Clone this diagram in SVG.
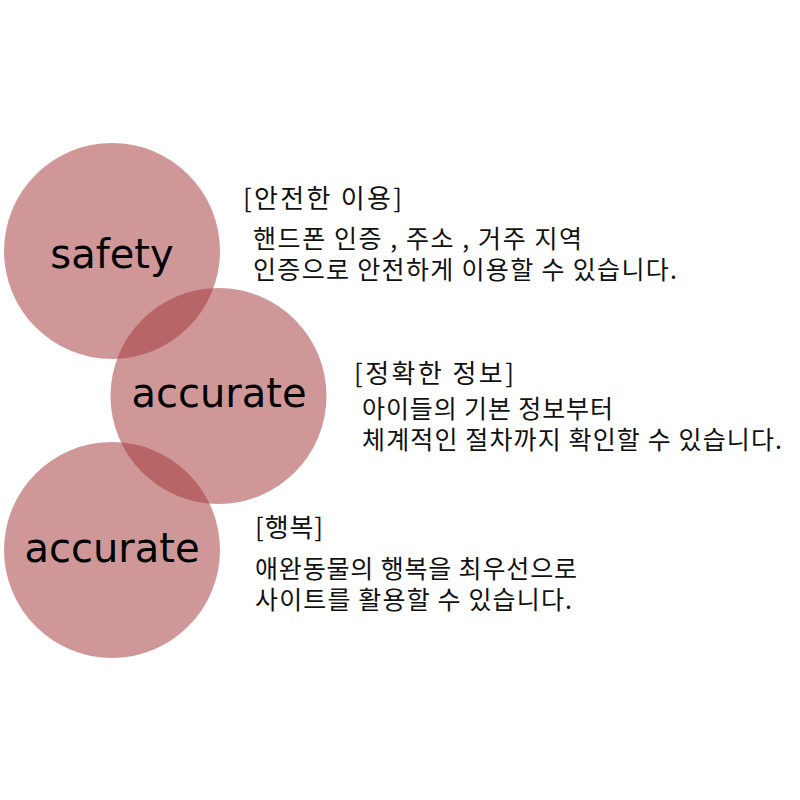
<svg xmlns="http://www.w3.org/2000/svg" width="800" height="800" viewBox="0 0 800 800">
<style>
.bg{fill:#ffffff}
.disc{fill:#a3373a;fill-opacity:0.52}
.big{font-family:"DejaVu Sans","Noto Sans",sans-serif;font-size:40px;fill:#000000;text-anchor:middle}
.head{font-family:"Noto Sans CJK KR","Noto Sans",sans-serif;font-size:26px;fill:#111111}
.body{font-family:"Noto Sans CJK KR","Noto Sans",sans-serif;font-size:25px;fill:#111111}
</style>
<rect class="bg" x="0" y="0" width="800" height="800"/>
<g id="node-safety">
<circle class="disc" cx="112" cy="251" r="108"/>
<text class="big" x="112" y="268">safety</text>
<text class="head" x="243" y="208" textLength="159" lengthAdjust="spacing">[안전한 이용]</text>
<text class="body"><tspan x="253" y="248" textLength="329" lengthAdjust="spacing">핸드폰 인증 , 주소 , 거주 지역</tspan><tspan x="253" y="279" textLength="424" lengthAdjust="spacing">인증으로 안전하게 이용할 수 있습니다.</tspan></text>
</g>
<g id="node-accurate-1">
<circle class="disc" cx="218.5" cy="396" r="108"/>
<text class="big" x="219" y="407">accurate</text>
<text class="head" x="354" y="383" textLength="160" lengthAdjust="spacing">[정확한 정보]</text>
<text class="body"><tspan x="362" y="418" textLength="251" lengthAdjust="spacing">아이들의 기본 정보부터</tspan><tspan x="362" y="449" textLength="420" lengthAdjust="spacing">체계적인 절차까지 확인할 수 있습니다.</tspan></text>
</g>
<g id="node-accurate-2">
<circle class="disc" cx="112" cy="550" r="108"/>
<text class="big" x="112" y="562">accurate</text>
<text class="head" x="255" y="537" textLength="68" lengthAdjust="spacing">[행복]</text>
<text class="body"><tspan x="255" y="578" textLength="322" lengthAdjust="spacing">애완동물의 행복을 최우선으로</tspan><tspan x="255" y="609" textLength="317" lengthAdjust="spacing">사이트를 활용할 수 있습니다.</tspan></text>
</g>
</svg>
